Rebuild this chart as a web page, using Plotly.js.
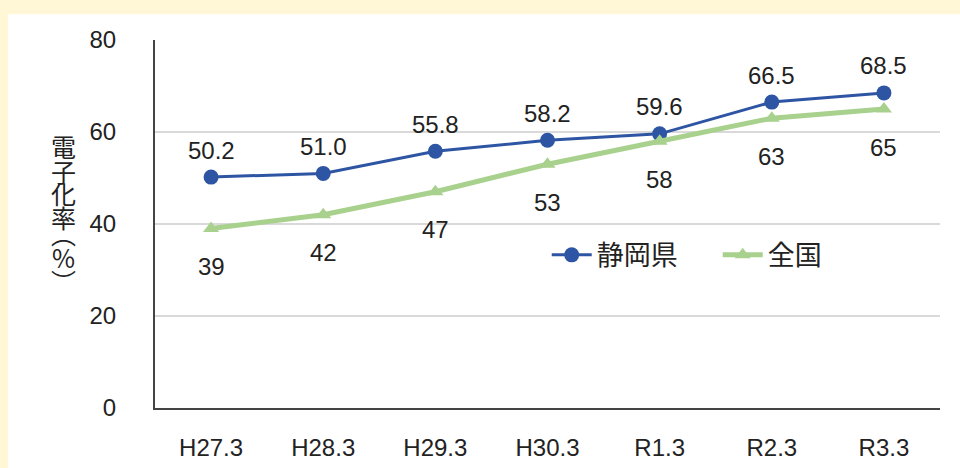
<!DOCTYPE html>
<html><head><meta charset="utf-8">
<script src="https://cdn.plot.ly/plotly-3.0.1.min.js"></script>
<style>html,body{margin:0;padding:0;background:#fff7d6;}#c{width:960px;height:468px;}</style>
</head><body><div id="c"></div>
<script>
const categories = ["H27.3","H28.3","H29.3","H30.3","R1.3","R2.3","R3.3"];
const shizuoka = [50.2,51.0,55.8,58.2,59.6,66.5,68.5];
const national = [39,42,47,53,58,63,65];
const seriesNames = ["静岡県","全国"];
const yTicks = [0,20,40,60,80];
const yTitleChars = ["電","子","化","率","︵","%","︶"];

const blue = "#2e55a3", green = "#a9d18e";
const numFont = "Liberation Sans, Arial, sans-serif";
const jpFont = "Noto Sans CJK JP, sans-serif";

const traces = [
  {x:categories, y:shizuoka, name:seriesNames[0], type:"scatter", mode:"lines+markers",
   line:{color:blue,width:3}, marker:{color:blue,size:15,symbol:"circle"}},
  {x:categories, y:national, name:seriesNames[1], type:"scatter", mode:"lines+markers",
   line:{color:green,width:5}, marker:{color:green,size:14,symbol:"triangle-up"}}
];
const ann = [];
categories.forEach((c,i)=>{
  ann.push({x:c,y:shizuoka[i],text:shizuoka[i].toFixed(1),showarrow:false,yshift:27,
    font:{family:numFont,size:24,color:"#222"}});
  ann.push({x:c,y:national[i],text:String(national[i]),showarrow:false,yshift:-38,
    font:{family:numFont,size:24,color:"#222"}});
});
// vertical stacked y-axis title; pixel centres of each glyph
const titleCentersPx = [146,171,193,217,233,257,281];
yTitleChars.forEach((ch,i)=>{
  ann.push({xref:"paper",yref:"paper",x:(63-155)/785,y:(408-titleCentersPx[i])/368,
    xanchor:"center",yanchor:"middle",showarrow:false,text:ch,
    font:{family:jpFont,size:25,color:"#222"}});
});

const layout = {
  width:960,height:468,
  paper_bgcolor:"#fff7d6",plot_bgcolor:"rgba(0,0,0,0)",
  margin:{l:155,r:20,t:40,b:60},
  showlegend:true,
  legend:{orientation:"h",x:0.499,y:0.415,xanchor:"left",yanchor:"middle",
    font:{family:jpFont,size:27,color:"#222"},bgcolor:"rgba(0,0,0,0)",
    itemwidth:40,entrywidth:116},
  xaxis:{type:"category",range:[-0.5,6.5],showline:true,linecolor:"#444",linewidth:2,
    showgrid:false,ticks:"",tickfont:{family:numFont,size:24,color:"#222"},
    ticklabelstandoff:17},
  yaxis:{range:[0,80],tickvals:yTicks,showline:true,linecolor:"#444",linewidth:2,
    gridcolor:"#d9d9d9",gridwidth:1.5,zeroline:false,ticks:"",
    tickfont:{family:numFont,size:24,color:"#222"},ticklabelstandoff:32},
  annotations:ann,
  shapes:[{type:"rect",xref:"paper",yref:"paper",x0:-0.187,x1:1.03,y0:-0.2,y1:1.07,
    fillcolor:"#ffffff",line:{width:0},layer:"below"}]
};
Plotly.newPlot("c",traces,layout,{displayModeBar:false});
</script></body></html>
